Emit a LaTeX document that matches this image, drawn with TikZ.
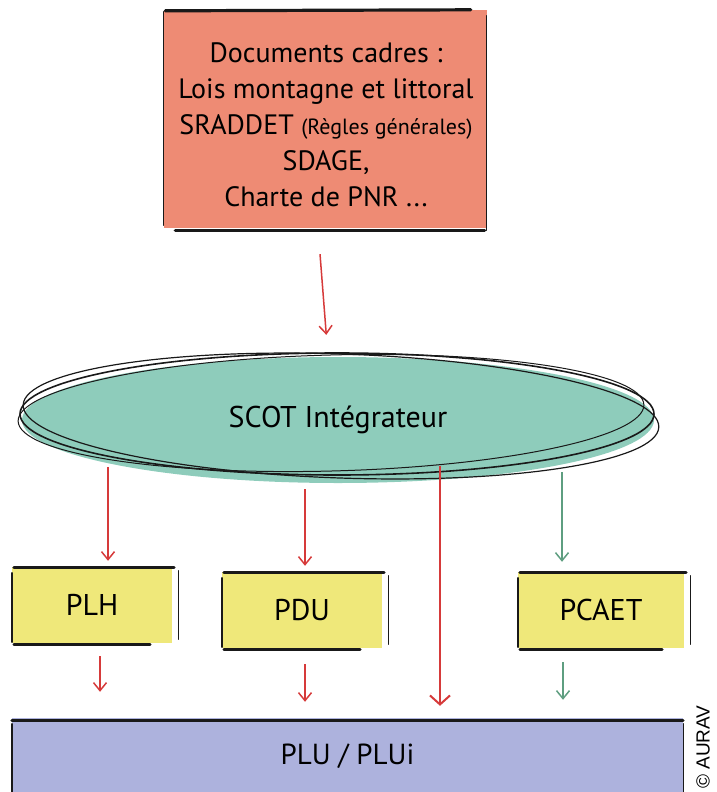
\documentclass[tikz,border=0pt]{standalone}
\usepackage{fontspec}
\setmainfont{PT Sans}
\setsansfont{Liberation Sans}
\usetikzlibrary{shapes.geometric,arrows.meta}
\definecolor{salmon}{HTML}{EE8B74}
\definecolor{teal}{HTML}{8ECCBB}
\definecolor{yel}{HTML}{EFE87A}
\definecolor{lav}{HTML}{ADB2DD}
\definecolor{redar}{HTML}{D63A3A}
\definecolor{greenar}{HTML}{5E9E80}
\tikzset{
  thickedge/.style={line width=3.2pt, line cap=round, black!90},
  thinedge/.style={line width=1.4pt, line cap=round, black!90},
  redarrow/.style={draw=redar, line width=1.5pt, -{Straight Barb[length=8pt,width=13pt,line width=1.5pt]}},
  greenarrow/.style={draw=greenar, line width=1.5pt, -{Straight Barb[length=8pt,width=13pt,line width=1.5pt]}},
  smallbox/.style={fill=yel, minimum width=160pt, minimum height=76pt, inner sep=0pt, font=\fontsize{30}{32}\selectfont}
}
\begin{document}
\begin{tikzpicture}[x=1pt,y=-1pt]
\useasboundingbox (0,0) rectangle (716,792);
% top box
\node[fill=salmon, minimum width=323pt, minimum height=218pt, inner sep=0pt] (top) at (325,119) {};
\node[align=center, inner sep=0pt, font=\fontsize{28}{36}\selectfont] (toptext) at (326,125)
  {Documents cadres :\\Lois montagne et littoral\\SRADDET {\fontsize{22}{36}\selectfont(Règles générales)}\\SDAGE,\\Charte de PNR ...};
\draw[thickedge] ([xshift=2pt,yshift=-1pt]top.north west) -- ([xshift=-16pt,yshift=0pt]top.north east);
\draw[thinedge] ([yshift=-2pt]top.north west) -- ([yshift=3pt]top.south west);
\draw[thinedge] ([yshift=-6pt]top.north east) -- ([yshift=-2pt]top.south east);
\draw[thickedge] ([xshift=12pt,yshift=-2pt]top.south west) -- ([xshift=-2pt,yshift=-2pt]top.south east);
% ellipse
\node[ellipse, fill=teal, minimum width=632pt, minimum height=126pt, inner sep=0pt,
      font=\fontsize{30}{32}\selectfont] (scot) at (338,420) {SCOT Intégrateur};
\draw[line width=1.6pt, black!90] (337,414) ellipse[x radius=317, y radius=61];
\draw[line width=1.2pt, black!90, rotate around={-2:(341,416)}] (341,416) ellipse[x radius=318, y radius=62];
\draw[line width=1.0pt, black!90, rotate around={1.5:(331,413)}] (331,413) ellipse[x radius=313, y radius=58];
% arrow top -> scot
\draw[redarrow, shorten <=26pt, shorten >=22pt] ([xshift=-7pt]top.south) -- ([xshift=-10pt]scot.north);
% boxes
\node[smallbox] (plh) at (92,605) {PLH};
\node[smallbox] (pdu) at (302,610) {PDU};
\node[smallbox, minimum width=166pt] (pcaet) at (601,610) {PCAET};
\foreach \b in {plh,pdu,pcaet}{
  \draw[thickedge, line width=3pt] ([xshift=2pt,yshift=-1pt]\b.north west) -- ([xshift=2pt,yshift=-1pt]\b.north east);
  \draw[thinedge] ([yshift=-6pt]\b.north west) -- ([yshift=1pt]\b.south west);
  \draw[thinedge] ([xshift=6pt,yshift=-4pt]\b.north east) -- ([xshift=6pt,yshift=4pt]\b.south east);
  \draw[thickedge, line width=2.6pt] ([xshift=2pt,yshift=-1pt]\b.south west) -- ([xshift=-22pt,yshift=-1pt]\b.south east);
}
% PLU
\node[fill=lav, minimum width=671pt, minimum height=76pt, inner sep=0pt,
      font=\fontsize{29}{32}\selectfont] (plu) at (347.5,756) {PLU / PLUi};
\draw[thickedge, line width=3pt] ([yshift=-3pt]plu.north west) -- ([yshift=-3pt]plu.north east);
\draw[thinedge] ([yshift=-6pt]plu.north west) -- (plu.south west);
\draw[thinedge] ([yshift=-6pt]plu.north east) -- (plu.south east);
% arrows scot -> boxes
\coordinate (s1) at (108,467);
\coordinate (s2) at (305,489);
\coordinate (s3) at (562,472);
\coordinate (s4) at (440,466);
\draw[redarrow, shorten >=6pt] (s1) -- (s1 |- plh.north);
\draw[redarrow, shorten >=6pt] (s2) -- (s2 |- pdu.north);
\draw[greenarrow, shorten >=10pt] (s3) -- (s3 |- pcaet.north);
\draw[redarrow, -{Straight Barb[length=9pt,width=20pt,line width=2pt]}, shorten >=12pt] (s4) -- (s4 |- plu.north);
% arrows boxes -> plu
\draw[redarrow, shorten <=13pt, shorten >=26pt] ([xshift=8pt]plh.south) -- ([xshift=8pt]plh.south |- plu.north);
\draw[redarrow, shorten <=16pt, shorten >=16pt] ([xshift=3pt]pdu.south) -- ([xshift=3pt]pdu.south |- plu.north);
\draw[greenarrow, shorten <=14pt, shorten >=18pt] ([xshift=-38pt]pcaet.south) -- ([xshift=-38pt]pcaet.south |- plu.north);
% copyright
\node[rotate=90, anchor=west, font=\sffamily\fontsize{19}{20}\selectfont, inner sep=0pt] (copy) at (703,789) {© AURAV};
\end{tikzpicture}
\end{document}
